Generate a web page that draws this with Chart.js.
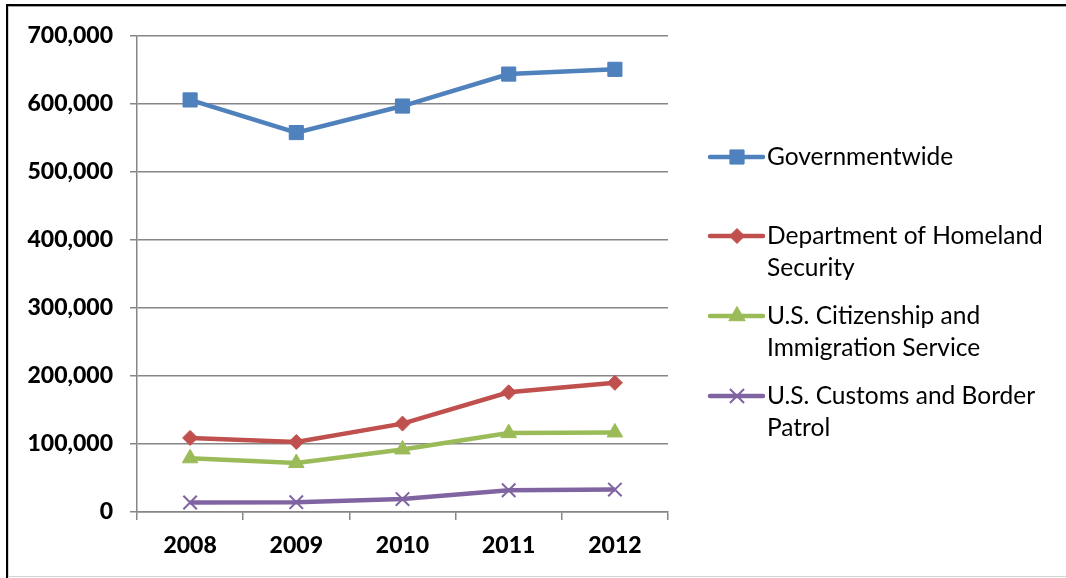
<!DOCTYPE html>
<html><head><meta charset="utf-8">
<script src="https://cdn.jsdelivr.net/npm/chart.js@4/dist/chart.umd.min.js"></script>
<style>html,body{margin:0;padding:0;background:#fff;}#wrap{width:1066px;height:578px;position:relative;}</style>
</head><body><div id="wrap"><canvas id="c" width="1066" height="578"></canvas></div>
<script>
const categories = ['2008','2009','2010','2011','2012'];
const governmentwide = [606000, 558000, 597000, 644000, 651000];
const dhs = [109000, 103000, 130000, 176000, 190000];
const uscis = [79000, 72000, 92000, 116000, 117000];
const cbp = [14000, 14500, 19000, 32000, 33000];
const yTicks = [0, 100000, 200000, 300000, 400000, 500000, 600000, 700000];
const legendLabels = [['Governmentwide'], ['Department of Homeland','Security'], ['U.S. Citizenship and','Immigration Service'], ['U.S. Customs and Border','Patrol']];

const FONT = 'Lato, "Open Sans", sans-serif';

const legendPlugin = {
  id: 'sideLegend',
  afterDraw(chart) {
    const ctx = chart.ctx;
    const ys = [157, 236, 316, 396];
    ctx.save();
    chart.data.datasets.forEach((ds, i) => {
      const y = ys[i];
      ctx.strokeStyle = ds.borderColor;
      ctx.lineWidth = 4.5;
      ctx.lineCap = 'round';
      ctx.beginPath(); ctx.moveTo(710, y); ctx.lineTo(763, y); ctx.stroke();
      ctx.fillStyle = ds.pointBackgroundColor;
      ctx.strokeStyle = ds.pointBorderColor;
      ctx.lineWidth = ds.pointBorderWidth;
      ctx.lineCap = 'butt';
      Chart.helpers.drawPoint(ctx, {
        pointStyle: ds.pointStyle, radius: ds.legendRadius, borderWidth: ds.pointBorderWidth, rotation: 0
      }, 737, y);
      ctx.fillStyle = '#000';
      ctx.font = '24.5px ' + FONT;
      ctx.textBaseline = 'middle';
      ctx.textAlign = 'left';
      legendLabels[i].forEach((t, j) => ctx.fillText(t, 767, y + j * 32));
    });
    ctx.restore();
  }
};
const framePlugin = {
  id: 'frame',
  afterDraw(chart) {
    const ctx = chart.ctx;
    ctx.save();
    ctx.fillStyle = '#000';
    ctx.fillRect(6, 4, 1060, 2);
    ctx.fillRect(6, 4, 2, 574);
    ctx.fillStyle = '#a0a0a0';
    ctx.fillRect(8, 6, 1058, 1);
    ctx.fillStyle = '#d4d4d4';
    ctx.fillRect(8, 7, 1, 571);
    ctx.fillRect(8, 576, 1058, 1);
    ctx.restore();
  }
};

function mk(label, data, color, style, radius, legendRadius, bw) {
  return { label, data, borderColor: color, backgroundColor: color, pointBackgroundColor: color, pointBorderColor: color,
    borderWidth: 4.5, pointStyle: style, pointRadius: radius, pointHoverRadius: radius, legendRadius, pointBorderWidth: bw, tension: 0 };
}

new Chart(document.getElementById('c'), {
  type: 'line',
  data: {
    labels: categories,
    datasets: [
      mk('Governmentwide', governmentwide, '#4F81BD', 'rect', 10, 10, 1),
      mk('Department of Homeland Security', dhs, '#C0504D', 'rectRot', 7.5, 7.5, 1),
      mk('U.S. Citizenship and Immigration Service', uscis, '#9BBB59', 'triangle', 9, 9.5, 1),
      mk('U.S. Customs and Border Patrol', cbp, '#8064A2', 'crossRot', 9.5, 10, 2)
    ]
  },
  options: {
    responsive: false, animation: false, devicePixelRatio: 1,
    layout: { padding: { left: 0, right: 398, top: 36, bottom: 0 } },
    plugins: { legend: { display: false }, tooltip: { enabled: false } },
    scales: {
      x: {
        offset: true,
        grid: { offset: true, drawOnChartArea: false, drawTicks: true, tickLength: 8, color: '#868686', lineWidth: 1.5 },
        border: { color: '#868686', width: 1.5 },
        ticks: { color: '#000', font: { family: FONT, size: 23, weight: 900 }, padding: 12 },
        afterFit(s) { s.height = 66; }
      },
      y: {
        min: 0, max: 700000,
        afterBuildTicks(s) { s.ticks = yTicks.map(v => ({ value: v })); },
        grid: { color: '#868686', lineWidth: 1.5, tickLength: 7 },
        border: { color: '#868686', width: 1.5 },
        ticks: { color: '#000', font: { family: FONT, size: 23, weight: 900 }, padding: 17,
          callback: v => Number(v).toLocaleString('en-US') },
        afterFit(s) { s.width = 137; }
      }
    }
  },
  plugins: [legendPlugin, framePlugin]
});
</script></body></html>
